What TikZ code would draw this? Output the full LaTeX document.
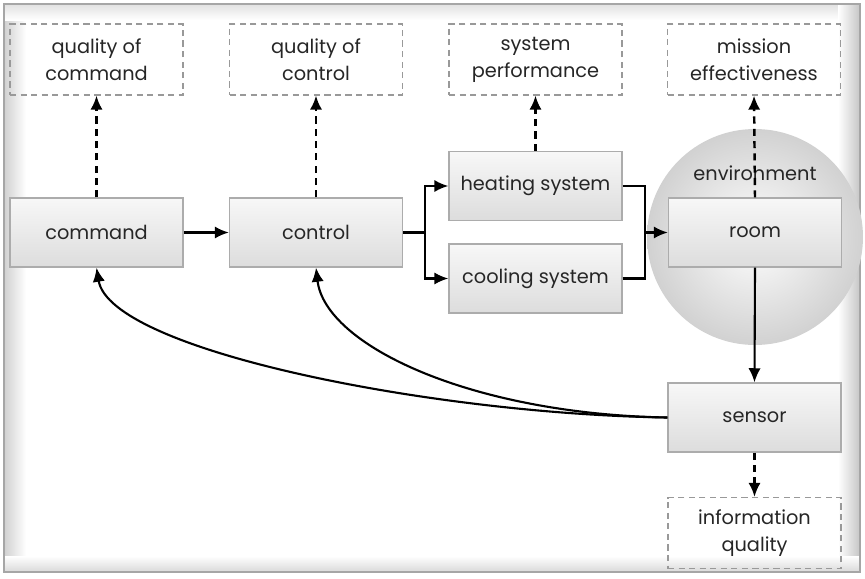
\documentclass[tikz,border=0pt]{standalone}
\usepackage{fontspec}
\setmainfont{Poppins}
\usetikzlibrary{arrows.meta}
\begin{document}
\begin{tikzpicture}[x=0.02cm,y=-0.02cm,
  font=\fontsize{11}{15.5}\selectfont,
  box/.style={draw=gray!65,line width=0.8pt,top color=gray!6,bottom color=gray!27,
    minimum width=3.46cm,minimum height=1.38cm,inner sep=0pt,text=black!85},
  dbox/.style={draw=gray!80,dashed,line width=0.7pt,dash pattern=on 3.5pt off 2.5pt,
    minimum width=3.46cm,minimum height=1.42cm,inner sep=0pt,align=center,text=black!85},
  arr/.style={line width=1.2pt,-{Latex[length=8pt,width=7pt]}},
  darr/.style={line width=1.4pt,dash pattern=on 4pt off 3pt,-{Latex[length=8pt,width=7pt]}},
  ln/.style={line width=1.2pt}]
\useasboundingbox (0,0) rectangle (865,578);
% background with vignette
\fill[white] (0,0) rectangle (865,578);
\shade[left color=gray!35,right color=white] (5,5) rectangle (26,572);
\shade[top color=gray!22,bottom color=white] (5,5) rectangle (860,20);
\shade[left color=white,right color=gray!45] (838,5) rectangle (860,572);
\shade[top color=white,bottom color=gray!30] (5,556) rectangle (860,572);
\draw[gray!70,line width=0.9pt] (4,4) rectangle (860,572);
% environment circle
\shade[inner color=white,outer color=gray!36] (755,237) circle[radius=2.16cm];
\node[text=black!85] (env) at (755,173) {environment};
% top dashed boxes
\node[dbox] (qcmd) at (96.5,59.5) {quality of\\command};
\node[dbox] (qctl) at (316,59.5) {quality of\\control};
\node[dbox] (sperf) at (535.5,59.5) {system\\performance};
\node[dbox] (meff) at (754,59.5) {mission\\effectiveness};
% main boxes
\node[box] (cmd) at (96.5,232.5) {command};
\node[box] (ctl) at (316,232.5) {control};
\node[box] (heat) at (535.5,186) {heating system};
\node[box] (cool) at (535.5,278.5) {cooling system};
\node[box] (room) at (755,232.5) {room};
\node[box] (sens) at (754.5,417.5) {sensor};
\node[dbox] (info) at (754.5,533) {information\\quality};
% coordinates
\coordinate (split) at (425,232.5);
\coordinate (join) at (645,232.5);
% connectors
\draw[arr] (cmd) -- (ctl);
\draw[ln] (ctl.east) -- (split);
\draw[arr] (split) |- (heat.west);
\draw[arr] (split) |- (cool.west);
\draw[ln] (heat.east) -| (join);
\draw[ln] (cool.east) -| (join);
\draw[arr] (join) -- (room.west);
\draw[arr] (room.south) -- (sens.north);
% dashed arrows
\draw[darr] (cmd.north) -- (qcmd.south);
\draw[darr] (ctl.north) -- (qctl.south);
\draw[darr] (heat.north) -- (sperf.south);
\draw[darr] (room.north) -- (meff.south);
\draw[darr] (sens.south) -- (info.north);
% feedback curves
\draw[arr] (sens.west) .. controls (430,414) and (110,350) .. (cmd.south);
\draw[arr] (sens.west) .. controls (470,414) and (325,345) .. (ctl.south);
\end{tikzpicture}
\end{document}
